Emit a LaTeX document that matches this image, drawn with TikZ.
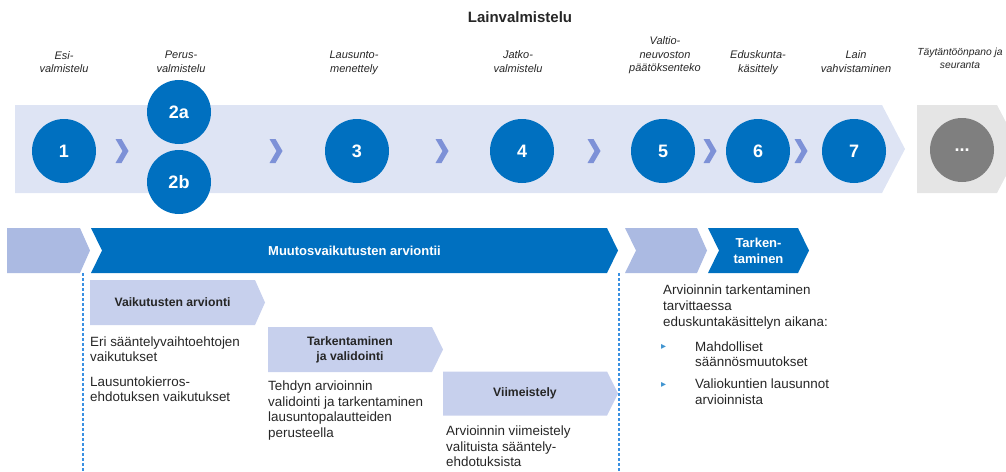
\documentclass[tikz,border=0pt]{standalone}
\usepackage{fontspec}
\setmainfont{Liberation Sans}
\newfontfamily\symfont{DejaVu Sans}
\usetikzlibrary{calc, positioning}
\definecolor{stepblue}{HTML}{0070C0}
\definecolor{bandblue}{HTML}{DEE4F4}
\definecolor{arrowblue}{HTML}{7D91D7}
\definecolor{segblue}{HTML}{ABBAE2}
\definecolor{subblue}{HTML}{C7D0ED}
\definecolor{bandgray}{HTML}{E5E5E5}
\definecolor{dotgray}{HTML}{7F7F7F}
\definecolor{guideblue}{HTML}{3A90E2}
\definecolor{textgray}{HTML}{262626}
\tikzset{
    pics/chev/.style n args = {5}{
        code = {%
        \coordinate (-west) at (0,0);
        \coordinate (-center) at ({(#1+#4)/2},0);
        \coordinate (-north) at ({(#1+#4)/2},-#2/2);
        \coordinate (-south) at ({(#1+#4)/2},#2/2);
        \fill[#5] (0,-#2/2) -- (#1,-#2/2) -- (#1+#3,0) -- (#1,#2/2) -- (0,#2/2) -- (#4,0) -- cycle;
        }
    },
    stepnum/.style = {circle, fill=stepblue, minimum size=64pt, inner sep=0pt, text=white, font=\fontsize{18}{18}\selectfont\bfseries},
    phase/.style = {anchor=base, align=center, inner sep=0pt, text=textgray, font=\fontsize{11}{13.5}\selectfont\itshape},
    body/.style = {anchor=base west, align=left, inner sep=0pt, text=textgray, font=\fontsize{13.4}{15.6}\selectfont},
    boxtitle/.style = {align=center, inner sep=0pt, text=textgray, font=\fontsize{12.2}{15}\selectfont\bfseries},
    bartitle/.style = {align=center, inner sep=0pt, text=white, font=\fontsize{13}{16}\selectfont\bfseries},
    guide/.style = {guideblue, line width=1.2pt, dash pattern=on 3pt off 2pt},
    tick/.style = {anchor=base west, inner sep=0pt, text=stepblue!75, font=\fontsize{10}{10}\selectfont\symfont},
}
\begin{document}
\begin{tikzpicture}[x=1pt, y=-1pt]
\useasboundingbox (0,0) rectangle (1006,471);

\node[anchor=base, text=textgray, font=\fontsize{15}{15}\selectfont\bfseries] (title) at (520,23) {Lainvalmistelu};

\pic (band) at (15,149) {chev={867}{88}{23}{0}{bandblue}};
\pic (rest) at (917,149) {chev={80}{88}{23}{0}{bandgray}};

\pic (a1) at (115.5,151) {chev={6}{24}{7}{7}{arrowblue}};
\pic (a2) at (269.5,151) {chev={6}{24}{7}{7}{arrowblue}};
\pic (a3) at (435.5,151) {chev={6}{24}{7}{7}{arrowblue}};
\pic (a4) at (587.5,151) {chev={6}{24}{7}{7}{arrowblue}};
\pic (a5) at (703.5,151) {chev={6}{24}{7}{7}{arrowblue}};
\pic (a6) at (794.5,151) {chev={6}{24}{7}{7}{arrowblue}};

\node[stepnum] (s1) at (64,151) {1};
\node[stepnum] (s2a) at ($(s1)+(115,-39)$) {2a};
\node[stepnum] (s2b) at ($(s2a)+(0,70)$) {2b};
\node[stepnum] (s3) at ($(s1)+(293,0)$) {3};
\node[stepnum] (s4) at ($(s3)+(165,0)$) {4};
\node[stepnum] (s5) at ($(s4)+(141,0)$) {5};
\node[stepnum] (s6) at ($(s5)+(95,0)$) {6};
\node[stepnum] (s7) at ($(s6)+(96,0)$) {7};
\node[stepnum, fill=dotgray] (sx) at ($(s7)+(108,-1)$) {...};

\node[phase] (p1) at (64,72.7) {Esi-\\valmistelu};
\node[phase] (p2) at (181,72.3) {Perus-\\valmistelu};
\node[phase] (p3) at (354,72.3) {Lausunto-\\menettely};
\node[phase] (p4) at (518,72.3) {Jatko-\\valmistelu};
\node[phase] (p5) at (665,71.5) {Valtio-\\neuvoston\\päätöksenteko};
\node[phase] (p6) at (758,72.3) {Eduskunta-\\käsittely};
\node[phase] (p7) at (856,72.3) {Lain\\vahvistaminen};
\node[phase, font=\fontsize{10.3}{12.8}\selectfont\itshape] (p8) at (960,68.5) {Täytäntöönpano ja\\seuranta};

\pic (segA) at (7,250.5) {chev={73}{45}{10}{0}{segblue}};
\pic (segB) at (91,250.5) {chev={516}{45}{11}{11}{stepblue}};
\pic (segC) at (625,250.5) {chev={72}{45}{10}{11}{segblue}};
\pic (segD) at (708,250.5) {chev={90}{45}{11}{11}{stepblue}};
\node[bartitle] (muutos) at (segB-center) {Muutosvaikutusten arviontii};
\node[bartitle] (tarken) at (segD-center) {Tarken-\\taminen};

\pic (subA) at (90,302.5) {chev={165}{45}{10}{0}{subblue}};
\pic (subB) at (268,349.5) {chev={164}{45}{11}{0}{subblue}};
\pic (subC) at (443,393.5) {chev={164}{44}{11}{0}{subblue}};
\node[boxtitle] (vaik) at (subA-center) {Vaikutusten arvionti};
\node[boxtitle] (valtitle) at (subB-center) {Tarkentaminen\\ja validointi};
\node[boxtitle] (viim) at (subC-center) {Viimeistely};

\node[body] (effA) at (90,361.7) {Eri sääntelyvaihtoehtojen\\vaikutukset};
\node[body] (effB) at (90,401.7) {Lausuntokierros-\\ehdotuksen vaikutukset};
\node[body] (valid) at (268,437.5) {Tehdyn arvioinnin\\validointi ja tarkentaminen\\lausuntopalautteiden\\perusteella};
\node[body] (final) at (446,466.7) {Arvioinnin viimeistely\\valituista sääntely-\\ehdotuksista};
\node[body] (later) at (663,326) {Arvioinnin tarkentaminen\\tarvittaessa\\eduskuntakäsittelyn aikana:};
\node[body] (itemA) at (695,366.7) {Mahdolliset\\säännösmuutokset};
\node[body] (itemB) at (695,404.5) {Valiokuntien lausunnot\\arvioinnista};
\node[tick] (tickA) at (661,349.5) {▸};
\node[tick] (tickB) at (661,387) {▸};

\coordinate (cutA) at (83,273);
\coordinate (cutAend) at (83,471);
\coordinate (cutB) at (619,273);
\coordinate (cutBend) at (619,471);
\draw[guide] (cutA) -- (cutAend);
\draw[guide] (cutB) -- (cutBend);
\end{tikzpicture}
\end{document}
